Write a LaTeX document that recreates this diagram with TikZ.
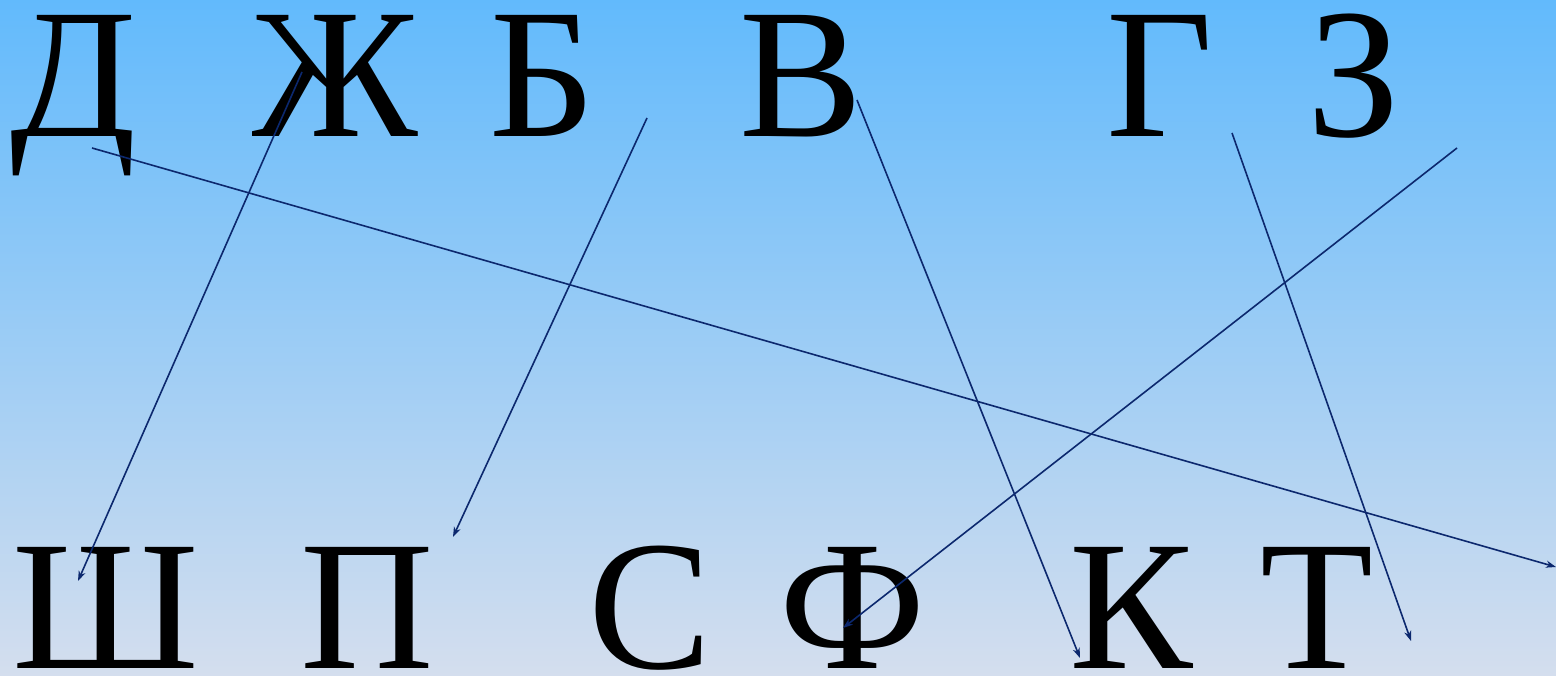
\documentclass[tikz,border=0pt]{standalone}
\usepackage{fontspec}
\setmainfont{Liberation Serif}
\usetikzlibrary{arrows.meta}
\definecolor{bgtop}{RGB}{98,186,252}
\definecolor{bgmid}{RGB}{160,200,246}
\definecolor{bgbot}{RGB}{212,222,238}
\definecolor{navy}{RGB}{12,40,110}
\tikzset{
  letter/.style={anchor=base,inner sep=0pt,font=\fontsize{185}{185}\selectfont},
  link/.style={navy,line width=1.6pt,-{Stealth[length=10pt,width=7pt,inset=3pt]}}
}
\begin{document}
\begin{tikzpicture}[x=1pt,y=1pt]
\shade[top color=bgtop,middle color=bgmid,bottom color=bgbot] (0,0) rectangle (1556,675);
\useasboundingbox (0,0) rectangle (1556,675);
% top row (baseline y_img=137)
\node[letter] (D) at (74,538) {Д};
\node[letter] (Zh) at (335,538) {Ж};
\node[letter] (B) at (543,538) {Б};
\node[letter] (V) at (801,538) {В};
\node[letter] (G) at (1160,538) {Г};
\node[letter] (Z) at (1354,538) {З};
% bottom row (baseline y_img=668)
\node[letter] (Sh) at (106,7) {Ш};
\node[letter] (P) at (367,7) {П};
\node[letter] (S) at (650,7) {С};
\node[letter] (F) at (853,7) {Ф};
\node[letter] (K) at (1131,7) {К};
\node[letter] (T) at (1317,7) {Т};
% connector end points
\coordinate (d1) at (92,527);   \coordinate (d2) at (1556,108);
\coordinate (zh1) at (302,603); \coordinate (zh2) at (78,94);
\coordinate (b1) at (647,557);  \coordinate (b2) at (453,138);
\coordinate (v1) at (857,575);  \coordinate (v2) at (1080,17);
\coordinate (g1) at (1232,542); \coordinate (g2) at (1411,34);
\coordinate (z1) at (1457,527); \coordinate (z2) at (843,47);
\draw[link] (d1) -- (d2);
\draw[link] (zh1) -- (zh2);
\draw[link] (b1) -- (b2);
\draw[link] (v1) -- (v2);
\draw[link] (g1) -- (g2);
\draw[link] (z1) -- (z2);
\end{tikzpicture}
\end{document}
